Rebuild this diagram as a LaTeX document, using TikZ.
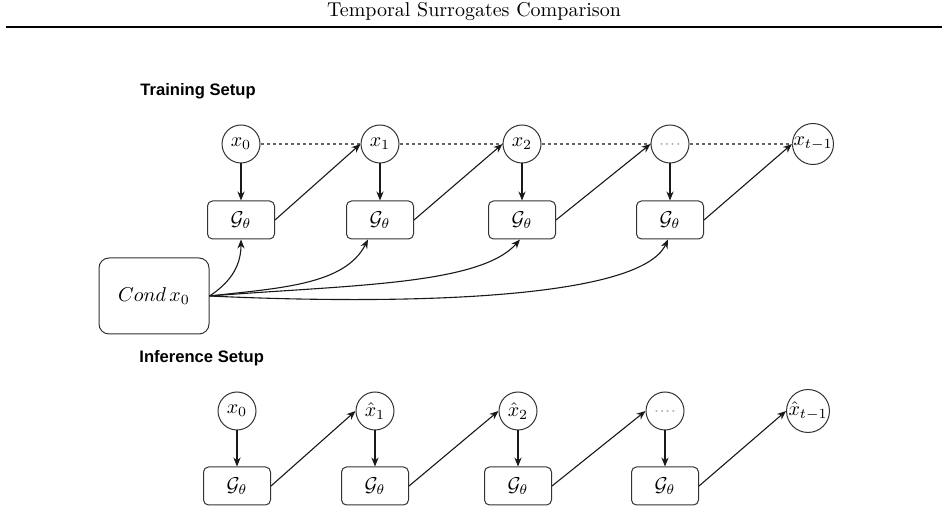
\documentclass[tikz,border=0pt]{standalone}
\usepackage{fontspec}
\newfontfamily\labelfont{Liberation Sans}
\usetikzlibrary{arrows.meta}
\begin{document}
\begin{tikzpicture}[x=0.5pt,y=-0.5pt,
 var/.style={circle,draw=black!80,line width=0.5pt,minimum size=19pt,inner sep=0pt},
 gbox/.style={rectangle,rounded corners=2.5pt,draw=black!80,line width=0.5pt,minimum width=33.5pt,minimum height=19pt,inner sep=0pt},
 condbox/.style={rectangle,rounded corners=5pt,draw=black!80,line width=0.5pt,minimum width=55pt,minimum height=38pt,inner sep=0pt},
 arr/.style={-{Stealth[length=4.5pt,width=3.6pt]},line width=0.55pt,draw=black!90},
 dotline/.style={draw=black!60,line width=0.6pt,dash pattern=on 1.6pt off 1.4pt},
 setup/.style={font=\labelfont\bfseries\fontsize{8.3}{10}\selectfont,anchor=west,inner sep=0pt}]
\useasboundingbox (0,0) rectangle (948,512);
\node (title) at (474,12) {Temporal Surrogates Comparison};
\coordinate (rl) at (6,27);
\coordinate (rr) at (942,27);
\draw[line width=0.8pt] (rl) -- (rr);

% Training setup
\node[setup] (ts) at (140,91) {Training Setup};
\node[var] (x0) at (241,144) {$x_0$};
\node[var] (x1) at (380,144) {$x_1$};
\node[var] (x2) at (522,144) {$x_2$};
\node[var] (xd) at (670,144) {\color{gray!60}$....$};
\node[var] (xt) at (813,144) {$x_{t-1}$};
\node[gbox] (g1) at (241,220) {$\mathcal{G}_\theta$};
\node[gbox] (g2) at (380,220) {$\mathcal{G}_\theta$};
\node[gbox] (g3) at (522,220) {$\mathcal{G}_\theta$};
\node[gbox] (g4) at (670,220) {$\mathcal{G}_\theta$};
\node[condbox] (cond) at (154,296) {$Cond\,x_0$};

\draw[dotline] (x0) -- (x1);
\draw[dotline] (x1) -- (x2);
\draw[dotline] (x2) -- (xd);
\draw[dotline] (xd) -- (xt);

\draw[arr] (x0) -- (g1);
\draw[arr] (x1) -- (g2);
\draw[arr] (x2) -- (g3);
\draw[arr] (xd) -- (g4);
\draw[arr] (g1.east) -- (x1.west);
\draw[arr] (g2.east) -- (x2.west);
\draw[arr] (g3.east) -- (xd.west);
\draw[arr] (g4.east) -- (xt.west);

\draw[arr] (cond.east) .. controls (228,284) and (241,268) .. (g1.south);
\draw[arr] (cond.east) .. controls (280,288) and (345,285) .. ([xshift=-6pt]g2.south);
\draw[arr] (cond.east) .. controls (350,285) and (480,285) .. ([xshift=-1pt]g3.south);
\draw[arr] (cond.east) .. controls (400,305) and (640,300) .. ([xshift=-1pt]g4.south);

% Inference setup
\node[setup] (is) at (139,358) {Inference Setup};
\node[var] (y0) at (237,411) {$x_0$};
\node[var] (y1) at (375,411) {$\hat{x}_1$};
\node[var] (y2) at (518,411) {$\hat{x}_2$};
\node[var] (yd) at (665,411) {\color{gray!60}$....$};
\node[var] (yt) at (808,411) {$\hat{x}_{t-1}$};
\node[gbox] (h1) at (237,486) {$\mathcal{G}_\theta$};
\node[gbox] (h2) at (375,486) {$\mathcal{G}_\theta$};
\node[gbox] (h3) at (518,486) {$\mathcal{G}_\theta$};
\node[gbox] (h4) at (665,486) {$\mathcal{G}_\theta$};

\draw[arr] (y0) -- (h1);
\draw[arr] (y1) -- (h2);
\draw[arr] (y2) -- (h3);
\draw[arr] (yd) -- (h4);
\draw[arr] (h1.east) -- (y1.west);
\draw[arr] (h2.east) -- (y2.west);
\draw[arr] (h3.east) -- (yd.west);
\draw[arr] (h4.east) -- (yt.west);
\end{tikzpicture}
\end{document}
